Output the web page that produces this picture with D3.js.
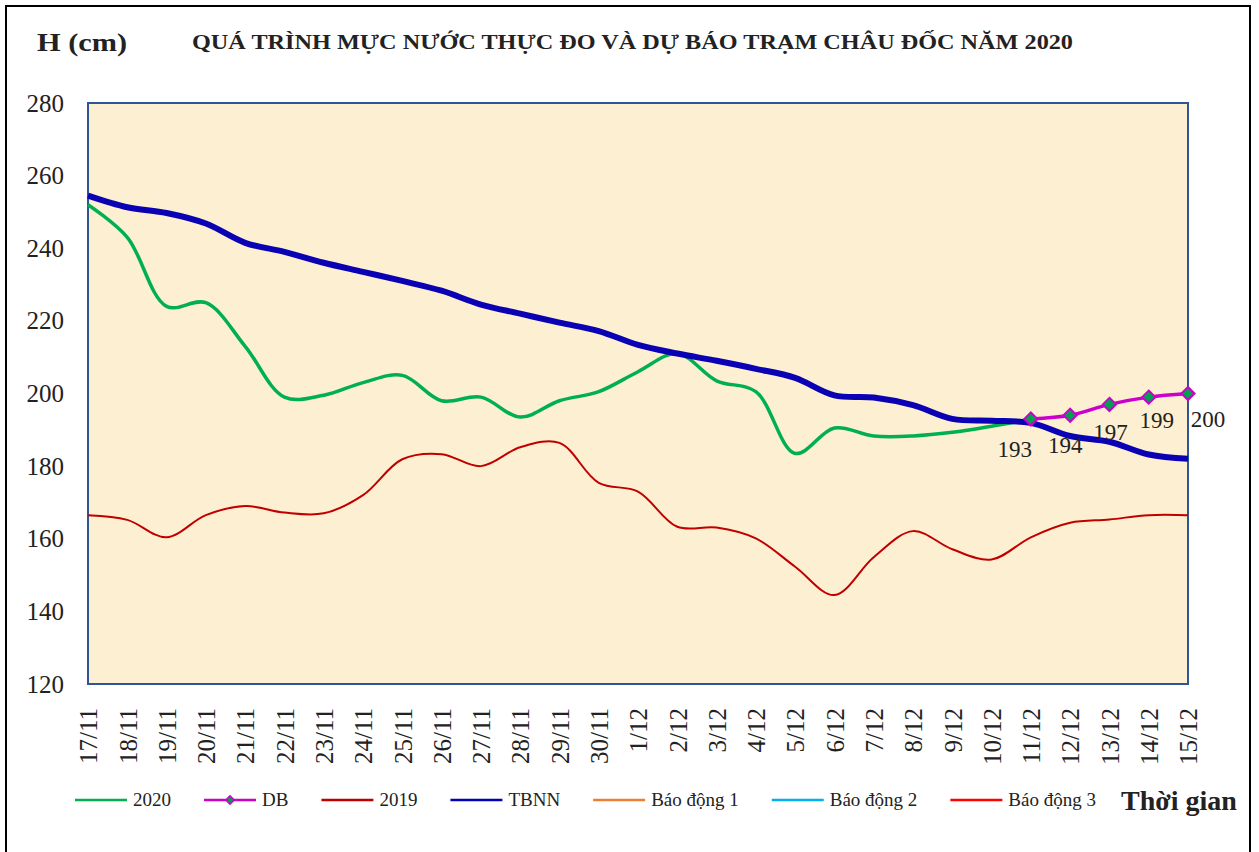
<!DOCTYPE html>
<html>
<head>
<meta charset="utf-8">
<script src="https://cdn.jsdelivr.net/npm/d3@7"></script>
<style>
  body { margin: 0; background: #fff; }
  text { font-family: "Liberation Serif", "Times New Roman", serif; fill: #222; }
</style>
</head>
<body>
<div id="chart"></div>
<script>
// data
var dates = ["17/11","18/11","19/11","20/11","21/11","22/11","23/11","24/11","25/11","26/11",
  "27/11","28/11","29/11","30/11","1/12","2/12","3/12","4/12","5/12","6/12","7/12","8/12",
  "9/12","10/12","11/12","12/12","13/12","14/12","15/12"]

var h2020 = [252, 243, 224, 225, 213, 199, 199.5, 203, 205, 198, 199, 193.5, 198, 200.5,
  206, 211, 203.5, 200.5, 183.5, 190.5, 188.3, 188.3, 189.3, 191, 193]

var dbDates = ["11/12","12/12","13/12","14/12","15/12"]
var dbValues = [193, 194, 197, 199, 200]

var h2019 = [166.5, 165.2, 160.4, 166.5, 169, 167.2, 167, 172, 181.9, 183.3, 180, 185.2,
  186.4, 175.4, 173, 163.3, 163.1, 160.1, 152.3, 144.5, 154.9, 162.1, 157.1, 154.3, 160.4,
  164.4, 165.3, 166.5, 166.5]

var tbnn = [254.5, 251.3, 249.7, 246.8, 241.5, 239, 236, 233.5, 231, 228.3, 224.5, 222,
  219.5, 217.2, 213.4, 211, 209, 206.8, 204.3, 199.5, 198.9, 196.8, 193, 192.5, 191.9,
  188.3, 186.7, 183.2, 182]

var yTicks = [120, 140, 160, 180, 200, 220, 240, 260, 280]

var legendNames = ["2020", "DB", "2019", "TBNN", "Báo động 1", "Báo động 2", "Báo động 3"]
var legendColors = ["#00B050", "#CC00CC", "#C00000", "#0000B4", "#ED7D31", "#00B0F0", "#FF0000"]

var W = 1259, H = 852
var plot = {left: 88, right: 1188, top: 103, bottom: 684}

var svg = d3.select("#chart").append("svg")
  .attr("width", W).attr("height", H)

// outer frame
svg.append("rect")
  .attr("x", 6).attr("y", 6).attr("width", 1244).attr("height", 860)
  .attr("fill", "none").attr("stroke", "#000").attr("stroke-width", 2)

var x = d3.scalePoint().domain(dates).range([plot.left, plot.right])
var y = d3.scaleLinear().domain([120, 280]).range([plot.bottom, plot.top])

// plot area
svg.append("rect")
  .attr("x", plot.left).attr("y", plot.top)
  .attr("width", plot.right - plot.left).attr("height", plot.bottom - plot.top)
  .attr("fill", "#FDEFD1").attr("stroke", "#2F5597").attr("stroke-width", 2)

// axes
var yAxis = svg.append("g")
  .attr("transform", "translate(" + plot.left + ",0)")
  .call(d3.axisLeft(y).tickValues(yTicks).tickSize(0).tickPadding(24))
yAxis.select(".domain").remove()
yAxis.selectAll("text").style("font-size", "25px").attr("fill", "#222")

var xAxis = svg.append("g")
  .attr("transform", "translate(0," + plot.bottom + ")")
  .call(d3.axisBottom(x).tickSize(0))
xAxis.select(".domain").remove()
xAxis.selectAll("text")
  .style("font-size", "25px").attr("fill", "#222")
  .attr("text-anchor", "end")
  .attr("transform", "rotate(-90)")
  .attr("x", -24).attr("y", 0).attr("dy", "0.35em")

var curve = d3.curveCatmullRom.alpha(0.5)
var line = d3.line()
  .x(function(d) { return x(d.date) })
  .y(function(d) { return y(d.value) })
  .curve(curve)

function pairs(ds, vs) {
  return vs.map(function(v, i) { return {date: ds[i], value: v} })
}

svg.append("path")
  .datum(pairs(dates, h2019))
  .attr("fill", "none").attr("stroke", "#C00000").attr("stroke-width", 2)
  .attr("d", line)

svg.append("path")
  .datum(pairs(dates, h2020))
  .attr("fill", "none").attr("stroke", "#00B050").attr("stroke-width", 3.5)
  .attr("d", line)

svg.append("path")
  .datum(pairs(dates, tbnn))
  .attr("fill", "none").attr("stroke", "#0A00B4").attr("stroke-width", 6)
  .attr("d", line)

var db = pairs(dbDates, dbValues)
svg.append("path")
  .datum(db)
  .attr("fill", "none").attr("stroke", "#CC00CC").attr("stroke-width", 3.5)
  .attr("d", line)

var diamond = d3.symbol().type(d3.symbolDiamond2).size(110)
svg.selectAll(".dbpt").data(db).enter().append("path")
  .attr("class", "dbpt")
  .attr("transform", function(d) { return "translate(" + x(d.date) + "," + y(d.value) + ")" })
  .attr("d", diamond)
  .attr("fill", "#00A050").attr("stroke", "#CC00CC").attr("stroke-width", 2)

// data labels (manually nudged like the original)
var labelOffsets = [[-16, 30], [-5, 30], [1, 28], [8, 23], [20, 25]]
svg.selectAll(".dblab").data(db).enter().append("text")
  .attr("class", "dblab")
  .attr("x", function(d, i) { return x(d.date) + labelOffsets[i][0] })
  .attr("y", function(d, i) { return y(d.value) + labelOffsets[i][1] })
  .attr("dy", "0.35em")
  .attr("text-anchor", "middle")
  .style("font-size", "23px")
  .attr("fill", "#111")
  .text(function(d) { return d.value })

// titles
svg.append("text")
  .attr("x", 37).attr("y", 51)
  .style("font-size", "26px").style("font-weight", "bold")
  .attr("textLength", 90).attr("lengthAdjust", "spacingAndGlyphs")
  .text("H (cm)")

svg.append("text")
  .attr("x", 192).attr("y", 49)
  .style("font-size", "21px").style("font-weight", "bold")
  .attr("textLength", 881).attr("lengthAdjust", "spacingAndGlyphs")
  .text("QUÁ TRÌNH MỰC NƯỚC THỰC ĐO VÀ DỰ BÁO TRẠM CHÂU ĐỐC NĂM 2020")

// legend
var legY = 800
var lx = 75
legendNames.forEach(function(name, i) {
  var g = svg.append("g")
  g.append("line")
    .attr("x1", lx).attr("x2", lx + 52).attr("y1", legY).attr("y2", legY)
    .attr("stroke", legendColors[i]).attr("stroke-width", 2.5)
  if (name == "DB") {
    g.append("path")
      .attr("transform", "translate(" + (lx + 26) + "," + legY + ")")
      .attr("d", d3.symbol().type(d3.symbolDiamond2).size(45))
      .attr("fill", "#00A050").attr("stroke", "#CC00CC").attr("stroke-width", 1.5)
  }
  var t = g.append("text")
    .attr("x", lx + 58).attr("y", legY).attr("dy", "0.33em")
    .style("font-size", "19px").attr("fill", "#333")
    .text(name)
  lx = lx + 58 + t.node().getComputedTextLength() + 33
})

svg.append("text")
  .attr("x", 1121).attr("y", 810)
  .style("font-size", "28px").style("font-weight", "bold")
  .attr("fill", "#222")
  .text("Thời gian")
</script>
</body>
</html>
